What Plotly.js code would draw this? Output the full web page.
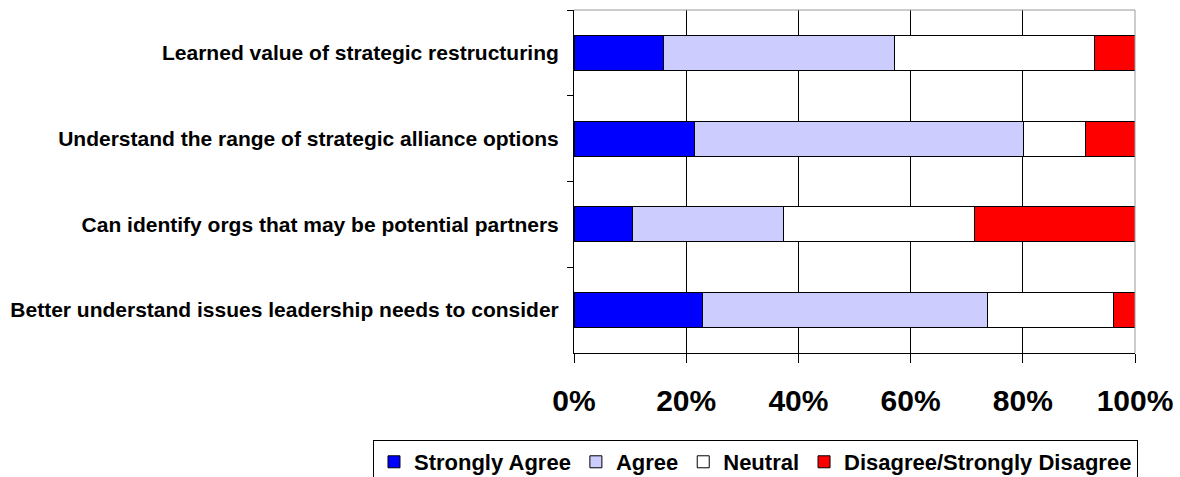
<!DOCTYPE html>
<html>
<head>
<meta charset="utf-8">
<script src="https://cdn.plot.ly/plotly-3.0.1.min.js"></script>
<style>html,body{margin:0;padding:0;background:#fff;}#chart{width:1180px;height:477px;}</style>
</head>
<body>
<div id="chart"></div>
<script>
const categories = [
  "Learned value of strategic restructuring",
  "Understand the range of strategic alliance options",
  "Can identify orgs that may be potential partners",
  "Better understand issues leadership needs to consider"
];
const seriesNames = ["Strongly Agree", "Agree", "Neutral", "Disagree/Strongly Disagree"];
const stronglyAgree = [16.0, 21.4, 10.5, 22.9];
const agree = [41.1, 58.8, 26.9, 50.8];
const neutral = [35.7, 10.9, 34.0, 22.5];
const disagree = [7.2, 8.9, 28.6, 3.8];
const xTickVals = [0, 20, 40, 60, 80, 100];
const xTickText = ["0%", "20%", "40%", "60%", "80%", "100%"];
const colors = ["#0000FF", "#CCCCFF", "#FFFFFF", "#FF0000"];

const values = [stronglyAgree, agree, neutral, disagree];
const traces = values.map((v, i) => ({
  type: "bar",
  orientation: "h",
  name: seriesNames[i],
  y: categories,
  x: v,
  marker: {color: colors[i], line: {color: "#000", width: 1}},
  hoverinfo: "x+name"
}));

const FONT = "Liberation Sans, Arial, sans-serif";
const layout = {
  width: 1180, height: 477,
  margin: {l: 574, r: 45, t: 10, b: 124, autoexpand: false},
  barmode: "stack",
  bargap: 0.59,
  paper_bgcolor: "#fff",
  plot_bgcolor: "#fff",
  font: {family: FONT, color: "#000"},
  showlegend: true,
  xaxis: {
    range: [0, 100],
    tickvals: xTickVals,
    ticktext: xTickText,
    ticks: "outside", ticklen: 9, tickcolor: "#000", tickwidth: 1,
    showgrid: true, gridcolor: "#000", gridwidth: 1,
    showline: true, linecolor: "#000", linewidth: 1,
    zeroline: false,
    tickfont: {size: 30, weight: "bold", family: FONT},
    ticklabelstandoff: 12,
    fixedrange: true
  },
  yaxis: {
    type: "category",
    categoryorder: "array",
    categoryarray: categories,
    autorange: "reversed",
    ticks: "outside", ticklen: 6, tickcolor: "#000",
    tickson: "boundaries",
    showline: true, linecolor: "#000", linewidth: 1,
    showgrid: false,
    tickfont: {size: 21, weight: "bold", family: FONT},
    ticklabelstandoff: 10,
    fixedrange: true
  },
  shapes: [
    {type: "line", xref: "paper", yref: "paper", x0: 0, x1: 1, y0: 1, y1: 1, line: {color: "#999", width: 1}},
    {type: "line", xref: "paper", yref: "paper", x0: 1, x1: 1, y0: 0, y1: 1, line: {color: "#999", width: 1}}
  ],
  legend: {
    orientation: "h",
    xref: "paper", yref: "paper",
    x: -0.3583, xanchor: "left",
    y: -0.2536, yanchor: "top",
    bordercolor: "#000", borderwidth: 1,
    font: {size: 22, weight: "bold", family: FONT},
    traceorder: "normal",
    itemwidth: 30
  }
};

Plotly.newPlot("chart", traces, layout, {displayModeBar: false, staticPlot: true});
</script>
</body>
</html>
